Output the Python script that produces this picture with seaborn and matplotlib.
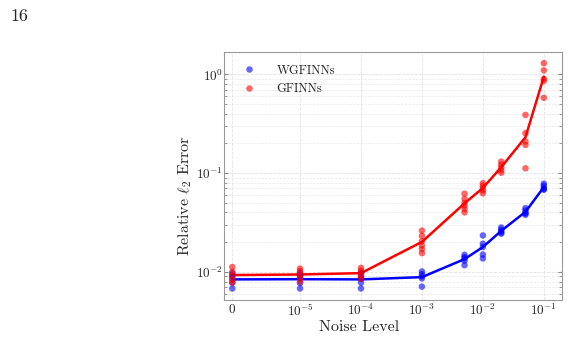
import numpy as np
import pandas as pd
import seaborn as sns
import matplotlib.pyplot as plt

# noise levels used in the experiment
noise = [0, 1e-5, 1e-4, 1e-3, 5e-3, 1e-2, 2e-2, 5e-2, 1e-1]

# relative l2 error of each run, one list per noise level
wgfinns = [
    [0.0097, 0.0091, 0.0086, 0.0078, 0.0068],
    [0.0098, 0.0092, 0.0087, 0.0077, 0.0068],
    [0.0098, 0.0090, 0.0086, 0.0078, 0.0068],
    [0.0101, 0.0095, 0.0090, 0.0086, 0.0071],
    [0.0149, 0.0141, 0.0137, 0.0130, 0.0117],
    [0.0234, 0.0193, 0.0179, 0.0150, 0.0137],
    [0.0282, 0.0268, 0.0258, 0.0250, 0.0244],
    [0.0443, 0.0419, 0.0400, 0.0390, 0.0379],
    [0.0783, 0.0747, 0.0708, 0.0690, 0.0680],
]
gfinns = [
    [0.0112, 0.0100, 0.0092, 0.0083, 0.0078],
    [0.0108, 0.0102, 0.0094, 0.0087, 0.0080],
    [0.0110, 0.0103, 0.0097, 0.0091, 0.0085],
    [0.0262, 0.0232, 0.0205, 0.0185, 0.0170, 0.0155],
    [0.0620, 0.0548, 0.0499, 0.0469, 0.0434, 0.0401],
    [0.0792, 0.0747, 0.0707, 0.0670, 0.0626],
    [0.131, 0.122, 0.114, 0.107, 0.101],
    [0.389, 0.254, 0.209, 0.193, 0.112],
    [1.30, 1.10, 0.90, 0.86, 0.58],
]

rows = []
for name, runs in [('WGFINNs', wgfinns), ('GFINNs', gfinns)]:
    for lvl, vals in zip(noise, runs):
        for v in vals:
            rows.append({'noise': lvl, 'error': v, 'model': name})
df = pd.DataFrame(rows)

sns.set_style('whitegrid')
plt.rcParams['font.family'] = ['cmr10', 'DejaVu Serif']
plt.rcParams['mathtext.fontset'] = 'cm'
plt.rcParams['axes.formatter.use_mathtext'] = True

palette = {'WGFINNs': '#0000ff', 'GFINNs': '#ff0000'}

fig = plt.figure(figsize=(5.69, 3.55), dpi=100)
ax = fig.add_axes([0.394, 0.155, 0.594, 0.698])

sns.scatterplot(data=df, x='noise', y='error', hue='model', palette=palette,
                s=22, alpha=0.6, edgecolor='none', ax=ax, zorder=3)
sns.lineplot(data=df, x='noise', y='error', hue='model', palette=palette,
             estimator='mean', errorbar=None, linewidth=1.8, ax=ax,
             legend=False, zorder=2)

ax.set_xscale('symlog', linthresh=1e-5, linscale=1)
ax.set_yscale('log')
ax.set_xlim(-1.2e-6, 0.2)
ax.set_ylim(0.0052, 1.68)

xt = [0, 1e-5, 1e-4, 1e-3, 1e-2, 1e-1]
ax.set_xticks(xt)
ax.set_xticklabels(['$0$', '$10^{-5}$', '$10^{-4}$', '$10^{-3}$', '$10^{-2}$', '$10^{-1}$'])
ax.xaxis.set_minor_locator(plt.NullLocator())

ax.grid(True, which='major', color='#e2e2e2', linestyle='--', linewidth=0.6)
ax.grid(True, which='minor', axis='y', color='#e8e8e8', linestyle='--', linewidth=0.5)
ax.tick_params(axis='both', which='major', labelsize=9.5, direction='in',
               length=3, color='#888888')
ax.tick_params(axis='x', which='major', pad=2)
ax.tick_params(axis='y', which='major', pad=1)
ax.tick_params(axis='y', which='both', left=True, right=True, direction='in')
ax.tick_params(axis='y', which='minor', length=2, color='#888888')
for s in ax.spines.values():
    s.set_color('#999999')
    s.set_linewidth(0.8)

ax.set_xlabel('Noise Level', fontsize=11.5)
ax.set_ylabel(r'Relative $\ell_2$ Error', fontsize=11.5)
ax.xaxis.set_label_coords(0.40, -0.082)
ax.yaxis.set_label_coords(-0.088, 0.42)

leg = ax.legend(loc='upper left', frameon=False, fontsize=9, handletextpad=1.2,
                borderaxespad=0.6, labelspacing=0.5)
for h in leg.legend_handles:
    h.set_alpha(0.6)

fig.text(0.018, 0.955, '16', fontsize=13, va='center', ha='left')

fig.savefig('out.png', dpi=100)
